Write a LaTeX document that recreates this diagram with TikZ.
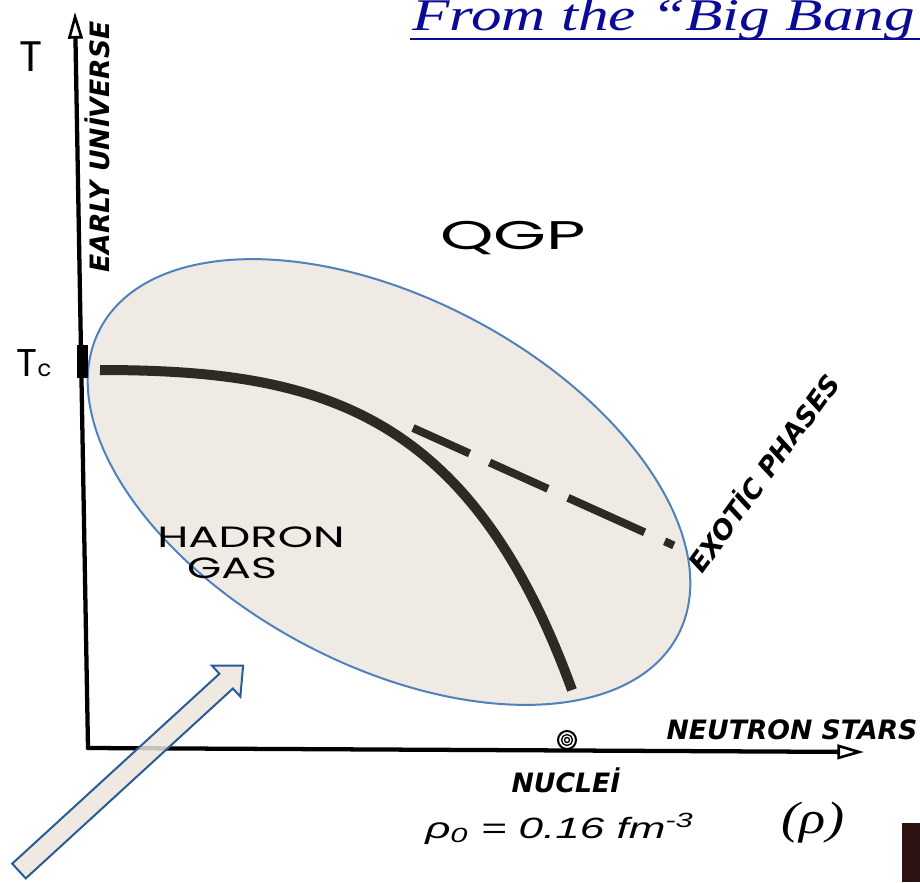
\documentclass[tikz,border=0pt]{standalone}
\usepackage{fontspec}
\usetikzlibrary{arrows.meta}
\newfontfamily\handfont{DejaVu Sans}
\newfontfamily\markerfont{Poppins}
\newfontfamily\helvfont{Liberation Sans}
\newfontfamily\serfont{Liberation Serif}
\definecolor{titleblue}{RGB}{10,10,150}
\definecolor{ellfill}{RGB}{240,234,228}
\definecolor{ellline}{RGB}{79,129,189}
\definecolor{curvecol}{RGB}{46,41,36}
\definecolor{arrfill}{RGB}{236,229,221}
\definecolor{arrline}{RGB}{41,92,150}
\definecolor{darkbox}{RGB}{45,18,18}
\tikzset{
  axislabel/.style={inner sep=0pt, font=\handfont\bfseries\itshape\fontsize{20}{20}\selectfont},
  regionlabel/.style={inner sep=0pt, font=\markerfont\fontsize{22}{22}\selectfont},
  axisline/.style={line width=3.2pt, line cap=round, line join=round},
  tipline/.style={-{Triangle[open,length=20pt,width=11pt,line width=2pt]}},
}
\begin{document}
\begin{tikzpicture}[x=0.75pt,y=0.75pt,yscale=-1,xscale=1]
\useasboundingbox (0,0) rectangle (920,882);
\clip (0,0) rectangle (920,882);
% title
\node[anchor=base west, inner sep=0pt, text=titleblue, font=\serfont\itshape\fontsize{34}{34}\selectfont] (title) at (412,30) {\scalebox{1.35}[1]{From the “Big Bang”}};
\draw[titleblue, line width=1.5pt] (410,39) -- (920,39);
% hadron gas region
\draw[ellline, fill=ellfill, line width=1.5pt, rotate around={28:(389,482)}] (389,482) ellipse (327 and 183);
% axes
\coordinate (origin) at (88,748);
\coordinate (ytop) at (75,12);
\coordinate (xend) at (864,752);
\draw[axisline, tipline] (origin) -- (ytop);
\draw[axisline, tipline] (origin) -- (xend);
\fill (77,345) rectangle (88,378);
% phase boundary
\draw[curvecol, line width=7.5pt] (100,370) .. controls (320,370) and (470,410) .. (572,690);
\draw[curvecol, line width=6pt, dash pattern=on 46.5pt off 16.5pt on 48pt off 16.5pt on 63pt off 16.5pt on 7.5pt off 20pt] (413,428) -- (675,546);
% nuclei
\draw[line width=1.5pt, fill=white] (567,740) circle (9);
\draw[line width=1pt] (567,740) circle (5.5) (567,740) circle (2.5);
% labels
\node[inner sep=0pt, font=\markerfont\fontsize{32}{32}\selectfont] (tlabel) at (31,57) {T};
\node[inner sep=0pt, font=\markerfont\fontsize{29}{29}\selectfont] (tclabel) at (34,363) {T{\fontsize{17}{17}\selectfont c}};
\node[axislabel, rotate=90] (early) at (97,147) {EARLY UNİVERSE};
\node[regionlabel, font=\markerfont\fontsize{30}{30}\selectfont] (qgp) at (513,238) {\scalebox{1.7}[1]{QGP}};
\node[regionlabel] (hadron) at (251,537) {\scalebox{1.53}[1]{HADRON}};
\node[regionlabel] (gas) at (232,568) {\scalebox{1.5}[1]{GAS}};
\node[axislabel, rotate=54] (exotic) at (762,472) {EXOTİC PHASES};
\node[axislabel] (neutron) at (792,730) {NEUTRON STARS};
\node[axislabel] (nuclei) at (566,780) {NUCLEİ};
\node[anchor=base west, inner sep=0pt, font=\helvfont\itshape\fontsize{22}{22}\selectfont] (rho0) at (425,838) {\scalebox{1.5}[1]{ρ\textsubscript{0} = 0.16 fm\textsuperscript{-3}}};
\node[inner sep=0pt, font=\serfont\itshape\fontsize{34}{34}\selectfont] (rholabel) at (813,823) {\scalebox{1.2}[1]{(ρ)}};
% pointer arrow
\begin{scope}[shift={(19,871)}, rotate=-42.5]
\draw[arrline, fill=arrfill, fill opacity=0.85, line width=1.5pt] (0,-10) -- (281,-10) -- (281,-21) -- (304,0) -- (281,21) -- (281,10) -- (0,10) -- cycle;
\end{scope}
\fill[darkbox] (902,823) rectangle (920,882);
\end{tikzpicture}
\end{document}
